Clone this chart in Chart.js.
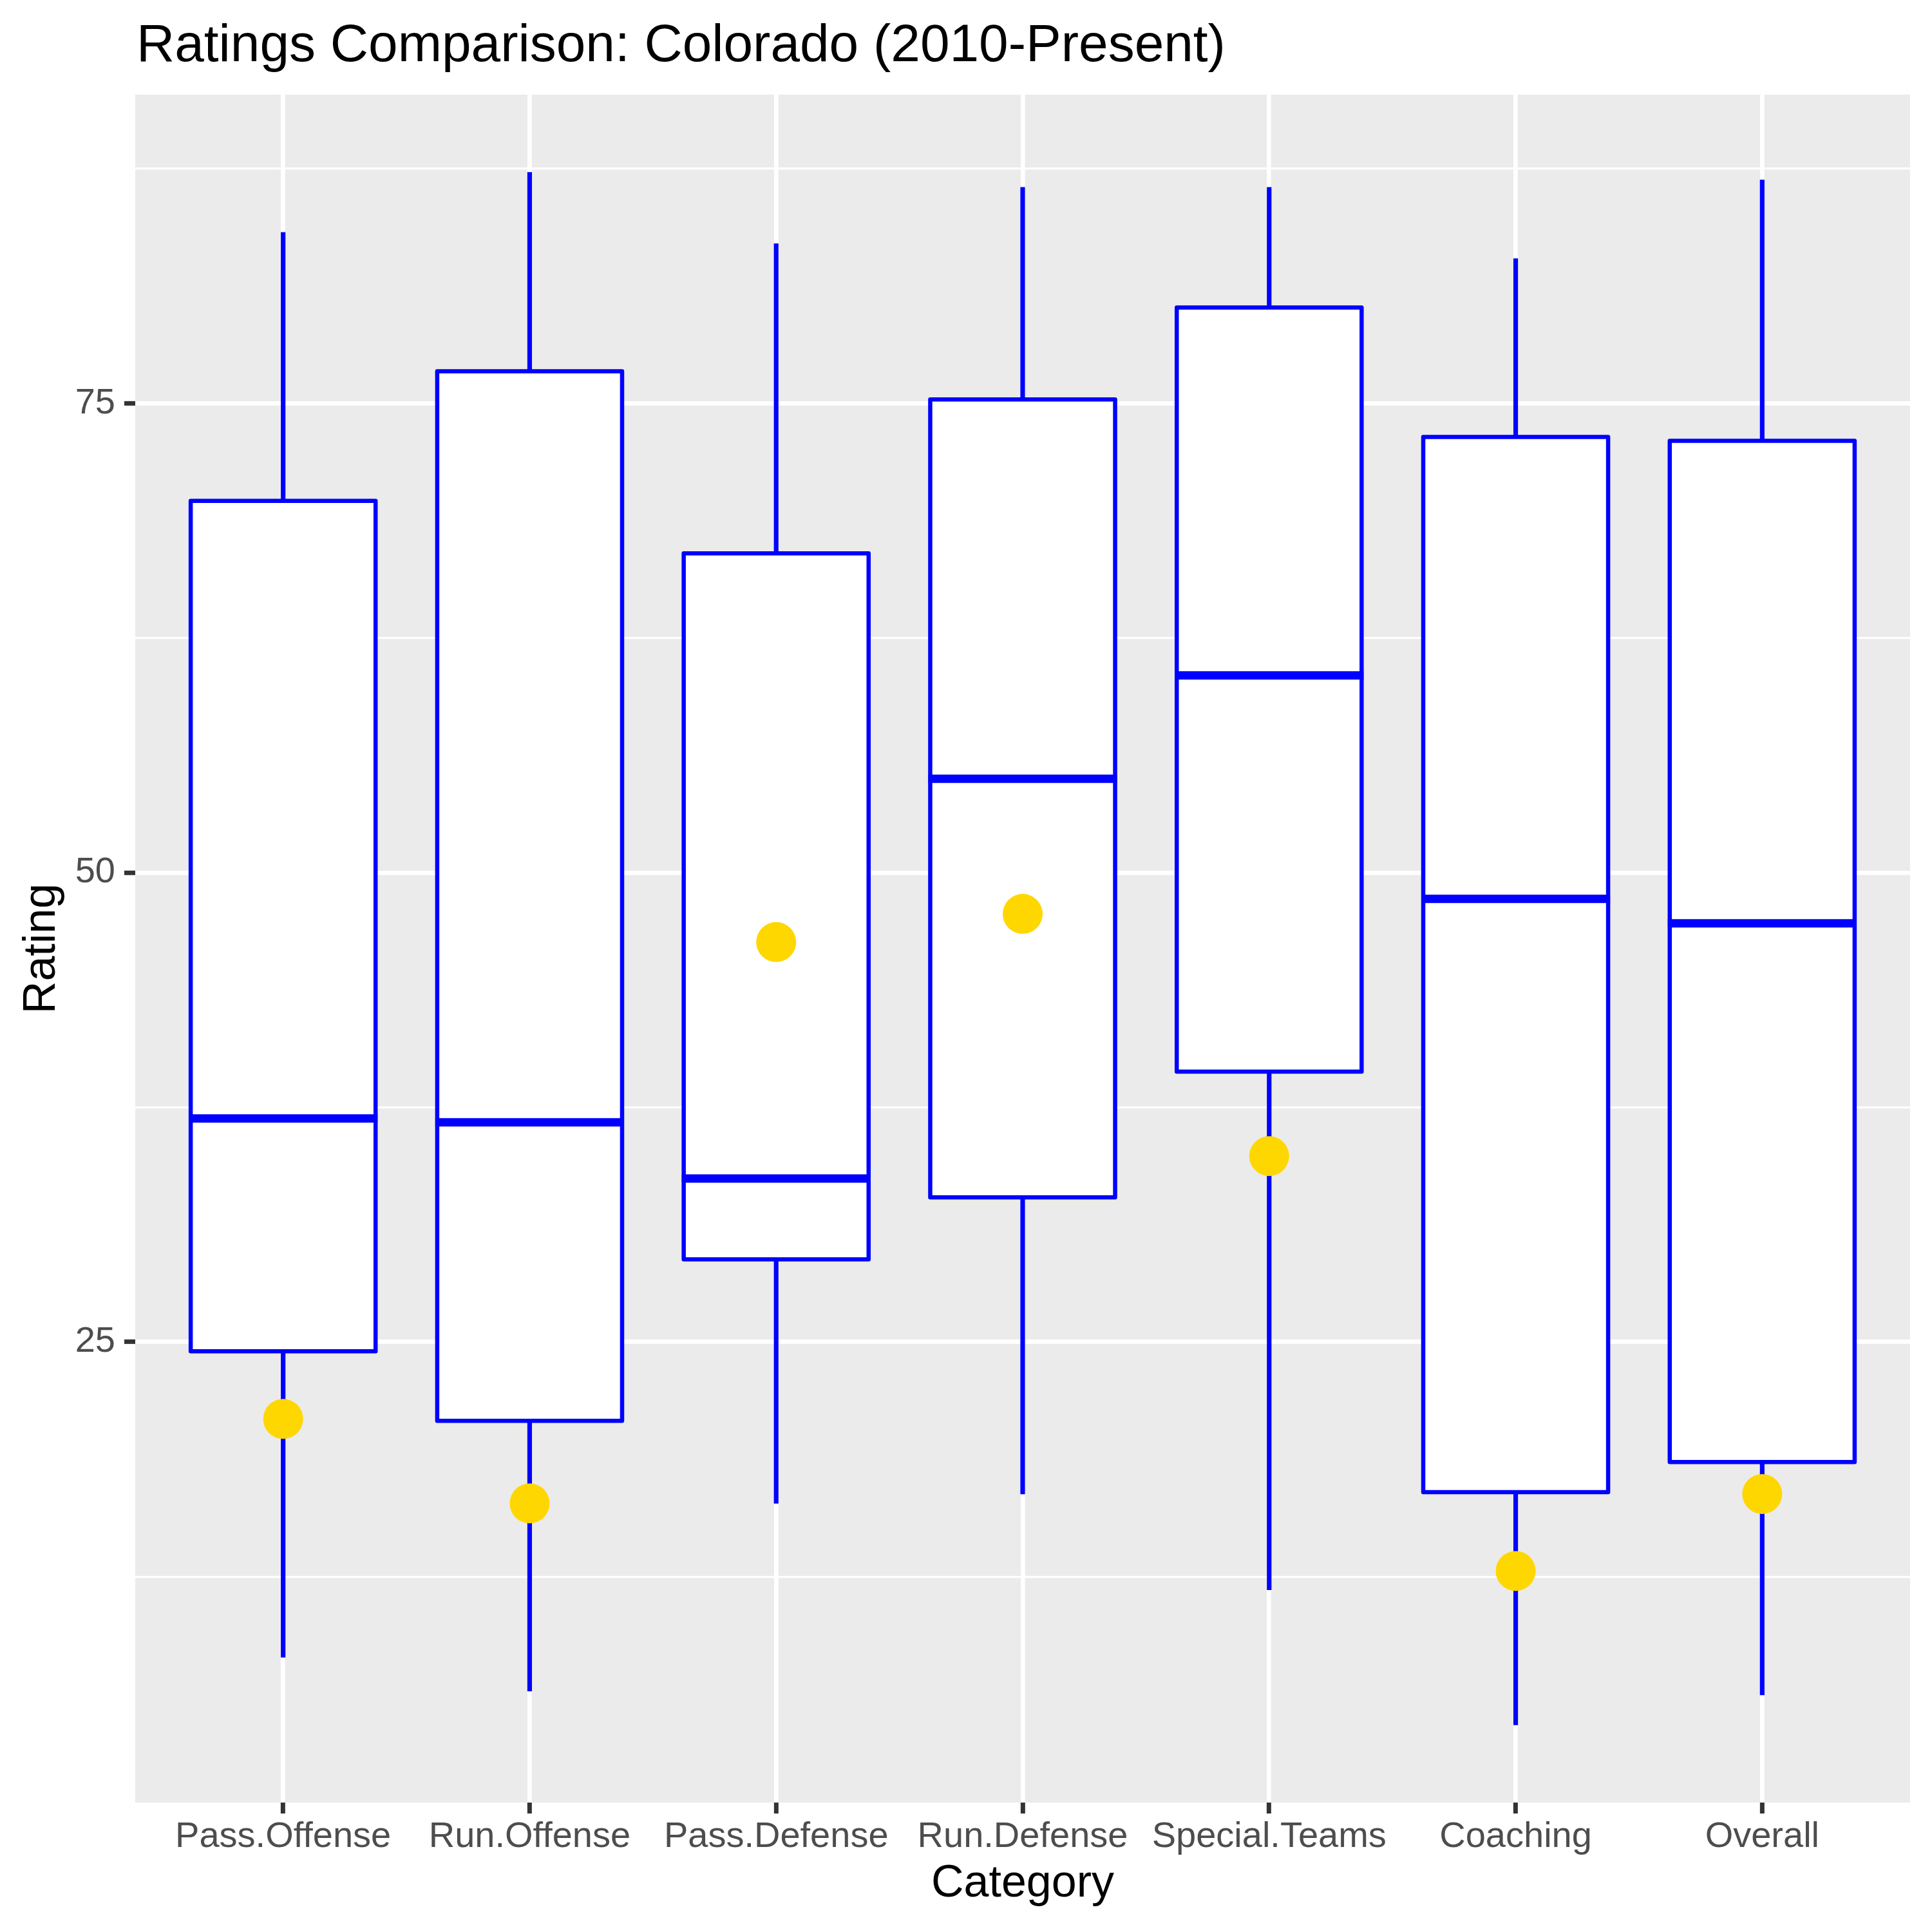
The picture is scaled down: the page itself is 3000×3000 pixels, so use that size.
<!DOCTYPE html>
<html>
<head>
<meta charset="utf-8">
<script src="https://cdn.jsdelivr.net/npm/chart.js@4.4.1/dist/chart.umd.min.js"></script>
<style>
  html, body { margin: 0; padding: 0; background: #ffffff; }
  #wrap { width: 3000px; height: 3000px; }
</style>
</head>
<body>
<div id="wrap"><canvas id="c" width="3000" height="3000"></canvas></div>
<script>
// ---- data ----
const categories = ["Pass.Offense", "Run.Offense", "Pass.Defense", "Run.Defense", "Special.Teams", "Coaching", "Overall"];
const whiskerLow  = [8.2, 6.4, 16.4, 16.9, 11.8, 4.6, 6.2];
const quartile1   = [24.5, 20.8, 29.4, 32.7, 39.4, 17.0, 18.6];
const medians     = [36.9, 36.7, 33.7, 55.0, 60.5, 48.6, 47.3];
const quartile3   = [69.8, 76.7, 67.0, 75.2, 80.1, 73.2, 73.0];
const whiskerHigh = [84.1, 87.3, 83.5, 86.5, 86.5, 82.7, 86.9];
const coloradoRating = [20.9, 16.4, 46.3, 47.8, 34.9, 12.8, 16.9];
const yMajorTicks = [25, 50, 75];
const yMinorTicks = [12.5, 37.5, 62.5, 87.5];

const titleText = "Ratings Comparison: Colorado (2010-Present)";
const xTitle = "Category";
const yTitle = "Rating";

// ggplot-like 5% expansion of the continuous axis
const dataMin = Math.min(...whiskerLow);
const dataMax = Math.max(...whiskerHigh);
const pad = 0.05 * (dataMax - dataMin);

const BLUE = "#0000FF";
const GOLD = "#FFD700";
const FONT = "'Liberation Sans', Arial, Helvetica, sans-serif";
Chart.defaults.font.family = FONT;

const boxData = categories.map((c, i) => ({ x: i, y: [quartile1[i], quartile3[i]] }));
const lowWhisker = categories.map((c, i) => ({ x: i, y: [whiskerLow[i], quartile1[i]] }));
const highWhisker = categories.map((c, i) => ({ x: i, y: [quartile3[i], whiskerHigh[i]] }));
const pts = categories.map((c, i) => ({ x: i, y: coloradoRating[i] }));

const panelBg = {
  id: 'panelBg',
  beforeDraw(chart) {
    const { ctx, chartArea: a } = chart;
    ctx.save();
    ctx.fillStyle = '#FFFFFF';
    ctx.fillRect(0, 0, chart.width, chart.height);
    ctx.fillStyle = '#EBEBEB';
    ctx.fillRect(a.left, a.top, a.right - a.left, a.bottom - a.top);
    ctx.restore();
  },
  afterDraw(chart) {
    const { ctx, chartArea: a } = chart;
    ctx.save();
    ctx.fillStyle = '#000000';
    ctx.font = `82px ${FONT}`;
    ctx.textAlign = 'left';
    ctx.textBaseline = 'alphabetic';
    ctx.fillText(titleText, a.left + 2, 95);
    ctx.restore();
  }
};

// box outline (centred on the hinges, like ggplot) and the median bar
const boxOutline = {
  id: 'boxOutline',
  afterDatasetDraw(chart, args) {
    if (chart.data.datasets[args.index].label !== 'box') return;
    const { ctx } = chart;
    const y = chart.scales.y;
    ctx.save();
    ctx.strokeStyle = BLUE;
    ctx.lineJoin = 'round';
    args.meta.data.forEach((el, i) => {
      const x0 = el.x - el.width / 2, x1 = el.x + el.width / 2;
      const yTop = y.getPixelForValue(quartile3[i]);
      const yBot = y.getPixelForValue(quartile1[i]);
      ctx.lineWidth = 6.5;
      ctx.strokeRect(x0, yTop, x1 - x0, yBot - yTop);
      const py = y.getPixelForValue(medians[i]);
      ctx.lineWidth = 13;
      ctx.lineCap = 'butt';
      ctx.beginPath();
      ctx.moveTo(x0 - 3, py);
      ctx.lineTo(x1 + 3, py);
      ctx.stroke();
    });
    ctx.restore();
  }
};

new Chart(document.getElementById('c'), {
  type: 'bar',
  data: {
    datasets: [
      { type: 'line', label: 'colorado', data: pts, showLine: false,
        pointRadius: 31, pointHoverRadius: 31, pointBackgroundColor: GOLD,
        pointBorderWidth: 0, pointBorderColor: GOLD, order: 0 },
      { label: 'box', data: boxData, backgroundColor: '#FFFFFF',
        borderWidth: 0, grouped: false,
        barPercentage: 0.75, categoryPercentage: 1.0, order: 1 },
      { label: 'lowWhisker', data: lowWhisker, backgroundColor: BLUE, borderWidth: 0,
        grouped: false, barThickness: 6.5, order: 2 },
      { label: 'highWhisker', data: highWhisker, backgroundColor: BLUE, borderWidth: 0,
        grouped: false, barThickness: 6.5, order: 2 }
    ]
  },
  options: {
    responsive: false,
    animation: false,
    devicePixelRatio: 1,
    layout: { padding: { left: 0, right: 34, top: 147, bottom: 0 } },
    plugins: { legend: { display: false }, tooltip: { enabled: false }, title: { display: false } },
    scales: {
      x: {
        type: 'linear',
        min: -0.6,
        max: categories.length - 1 + 0.6,
        offset: false,
        afterBuildTicks(s) { s.ticks = categories.map((c, i) => ({ value: i })); },
        afterFit(s) { s.height = 201; },
        border: { display: false },
        grid: { offset: false, color: '#FFFFFF', lineWidth: 6.7, drawTicks: true, tickLength: 17,
                tickColor: '#333333', tickWidth: 7 },
        ticks: { autoSkip: false, maxRotation: 0, minRotation: 0, padding: 3,
                 color: '#4D4D4D', font: { size: 56, lineHeight: 1.2 },
                 callback: (v) => categories[Math.round(v)] },
        title: { display: true, text: xTitle, color: '#000000',
                 font: { size: 70, lineHeight: 1.2 }, padding: { top: 0, bottom: 32 } }
      },
      y: {
        type: 'linear',
        min: dataMin - pad,
        max: dataMax + pad,
        afterBuildTicks(s) {
          s.ticks = [...yMinorTicks, ...yMajorTicks].sort((a, b) => a - b).map(v => ({ value: v }));
        },
        afterFit(s) { s.width = 210; },
        border: { display: false },
        grid: {
          color: '#FFFFFF',
          lineWidth: (ctx) => (ctx.tick && yMajorTicks.includes(ctx.tick.value)) ? 6.7 : 3.3,
          drawTicks: true, tickLength: 17,
          tickColor: (ctx) => (ctx.tick && yMajorTicks.includes(ctx.tick.value)) ? '#333333' : 'rgba(0,0,0,0)',
          tickWidth: 7
        },
        ticks: { padding: 14, color: '#4D4D4D', font: { size: 56, lineHeight: 1.2 },
                 callback: (v) => yMajorTicks.includes(v) ? String(v) : '' },
        title: { display: true, text: yTitle, color: '#000000',
                 font: { size: 70, lineHeight: 1.2 }, padding: { top: 24, bottom: 0 } }
      }
    }
  },
  plugins: [panelBg, boxOutline]
});
</script>
</body>
</html>
